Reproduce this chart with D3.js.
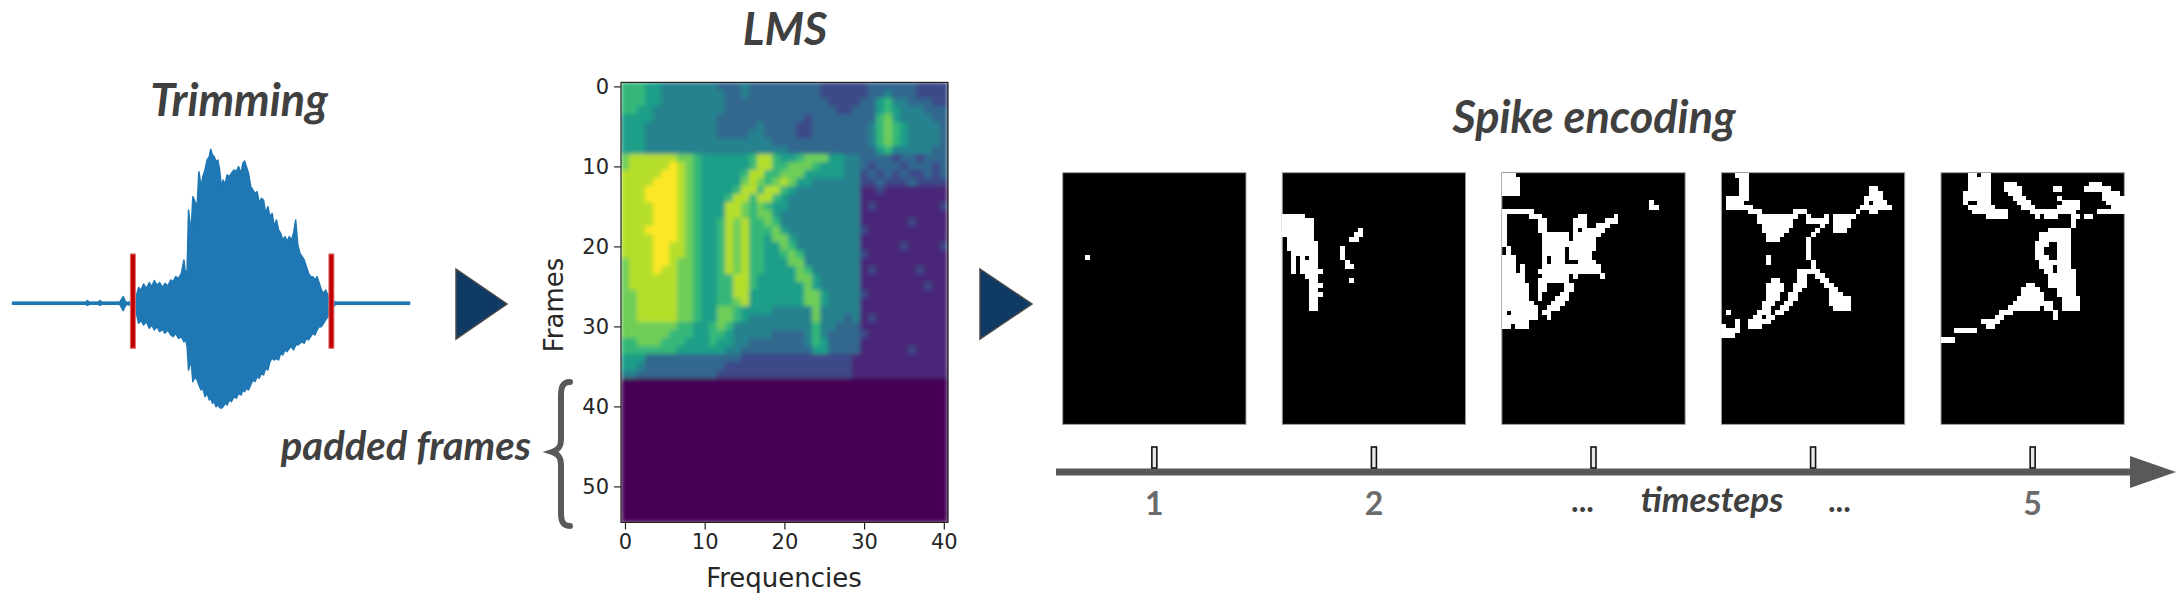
<!DOCTYPE html>
<html>
<head>
<meta charset="utf-8">
<script src="https://cdn.jsdelivr.net/npm/d3@7"></script>
<style>
body { margin: 0; background: #fff; }
</style>
</head>
<body>
<div id="chart"></div>
<script>
// ---- values ----

// raw waveform envelope: time (ms), upper and lower amplitude
var waveT  = [0, 205, 210, 215, 240, 245, 250, 300, 305, 310, 315, 320, 330, 345, 353, 360, 367, 375, 383, 390, 397, 405, 412, 420, 427, 435, 443, 450, 457, 465, 473, 480, 485, 489, 493, 500, 505, 511, 517, 522, 528, 533, 539, 545, 551, 555, 560, 565, 570, 575, 580, 585, 590, 595, 601, 607, 613, 620, 627, 633, 640, 645, 650, 655, 661, 667, 673, 679, 685, 691, 697, 703, 709, 715, 721, 727, 733, 739, 745, 751, 757, 763, 769, 775, 781, 787, 793, 799, 805, 811, 817, 823, 829, 835, 841, 847, 853, 859, 865, 871, 877, 883, 889, 895, 905, 1112];
var waveHi = [3, 3, 8, 3, 3, 8, 3, 3, 12, 20, 8, 2, 5, 15, 47, 40, 58, 45, 62, 50, 68, 54, 62, 48, 60, 52, 70, 65, 80, 75, 90, 130, 85, 100, 280, 210, 320, 305, 290, 395, 350, 380, 400, 430, 440, 462, 445, 440, 425, 430, 400, 350, 370, 355, 385, 380, 390, 400, 395, 410, 390, 420, 427, 410, 390, 350, 340, 330, 335, 300, 315, 310, 270, 290, 260, 270, 230, 250, 220, 210, 190, 200, 185, 200, 190, 210, 250, 175, 150, 140, 130, 110, 90, 80, 80, 70, 80, 60, 40, 30, 40, 25, 15, 8, 3, 3];
var waveLo = [-3, -3, -6, -3, -3, -6, -3, -3, -12, -22, -10, -3, -6, -20, -60, -52, -65, -55, -75, -65, -80, -70, -85, -78, -90, -80, -95, -100, -90, -105, -100, -115, -110, -130, -200, -170, -235, -220, -230, -245, -260, -255, -280, -270, -290, -285, -300, -295, -310, -305, -312, -315, -310, -300, -305, -290, -295, -280, -285, -270, -275, -260, -265, -255, -260, -245, -230, -235, -220, -225, -210, -215, -195, -200, -175, -165, -170, -165, -170, -150, -155, -140, -145, -135, -130, -140, -125, -125, -120, -115, -120, -105, -110, -100, -90, -95, -80, -70, -70, -60, -50, -40, -30, -15, -3, -3];
var trimT = [337, 893];
var trimAmp = [148, -135];

// log-mel spectrogram, 37 real frames x 41 bins, level 0-9 (viridis)
var lmsRows = [
  "6665544444 4433343333 3333322222 23333332222",
  "6665544444 4443343333 3333322222 23343332222",
  "6665544444 4443333333 3333332222 33564433322",
  "6655444444 4443333333 3333333223 33565444333",
  "5555444444 4433333333 3332333333 33675444433",
  "5554444444 4433333433 3322333333 34676544443",
  "5554444444 4433334433 3322333333 34676544443",
  "5554444444 4444444443 3333333333 34676544443",
  "5554444444 4444444444 4333333333 33564444433",
  "7888888776 5555556886 5567775544 33332332333",
  "7888889876 5555556886 6777655544 32333233323",
  "8888899876 5555568866 7775555544 23232322323",
  "8888999876 5555578767 8755444444 22322232222",
  "8889999876 5555688688 6544444444 11211111111",
  "8889999876 5556886886 5444444444 11111111111",
  "8888999876 5558876765 5444444444 12111111112",
  "8888999876 5558876775 4444444444 11111111111",
  "8888999876 5568786676 4444444444 11111121111",
  "8889999876 5568786667 5444444444 21111111111",
  "8888999876 5568786657 7544444444 11111111111",
  "8888998876 5568786655 7644444444 11111211112",
  "8888998876 5568786655 6764444444 21111111111",
  "7888998776 5568786655 5774444444 11111111111",
  "7888988776 5568786655 5576444444 12111112111",
  "7888888776 5566886555 5577544444 11111111111",
  "7888888776 5566886555 5557544444 11111111211",
  "7788888776 5566885555 5557754444 21111111111",
  "7788888776 5566785555 5557754444 11111111111",
  "7788888776 5577655554 4444744444 11111111111",
  "7788888776 5577654444 4444744434 12111111111",
  "7777777665 5676444444 4444644333 11111111111",
  "7777776665 5665444443 3334643333 21111111111",
  "6677766655 5655443333 3334653333 11111111111",
  "6666666555 5554433333 3333553333 11111121111",
  "5553333333 3333322222 2222222221 11111111111",
  "5543333333 3332222222 2222222221 11111111111",
  "4433333333 3322222222 2222222221 11111111111"
];
var lmsFrames = 55;      // padded length
var lmsBins = 41;
var frameTicks = [0, 10, 20, 30, 40, 50];
var freqTicks = [0, 10, 20, 30, 40];

// spike frames: white runs [row, firstCol, lastCol] on a 41 x 55 grid
var spikes1 = [[18, 5, 5]];
var spikes2 = [
  [9, 0, 4], [10, 0, 6], [11, 0, 6], [12, 0, 6], [12, 17, 17], [13, 0, 6], [13, 16, 17],
  [14, 1, 6], [14, 15, 16], [15, 1, 7], [16, 1, 7], [16, 13, 13], [17, 2, 7], [17, 13, 13],
  [18, 2, 2], [18, 4, 4], [18, 6, 7], [18, 13, 13], [19, 2, 2], [19, 4, 7], [19, 14, 14],
  [20, 2, 2], [20, 4, 7], [20, 14, 15], [21, 2, 2], [21, 4, 8], [22, 5, 7], [23, 6, 7], [23, 15, 15],
  [24, 6, 8], [25, 6, 7], [26, 6, 8], [27, 6, 7], [28, 6, 7], [29, 6, 7]
];
var spikes3 = [
  [0, 0, 2], [1, 0, 3], [2, 0, 3], [3, 0, 3], [4, 0, 3], [6, 33, 33], [7, 33, 34], [8, 0, 6],
  [9, 0, 0], [9, 6, 8], [9, 17, 18], [9, 25, 25],
  [10, 0, 0], [10, 8, 9], [10, 16, 18], [10, 23, 25],
  [11, 0, 0], [11, 8, 9], [11, 16, 18], [11, 21, 23],
  [12, 0, 0], [12, 8, 9], [12, 16, 16], [12, 18, 22],
  [13, 0, 0], [13, 9, 14], [13, 16, 21], [14, 0, 0], [14, 9, 14], [14, 16, 20],
  [15, 0, 0], [15, 9, 20], [16, 1, 1], [16, 9, 13], [16, 15, 20], [17, 1, 1], [17, 9, 13], [17, 15, 19],
  [18, 0, 2], [18, 9, 9], [18, 11, 13], [18, 15, 19], [19, 0, 2], [19, 9, 9], [19, 11, 13], [19, 17, 20],
  [20, 0, 2], [20, 4, 4], [20, 9, 21], [21, 0, 2], [21, 4, 4], [21, 8, 21],
  [22, 0, 4], [22, 9, 14], [22, 16, 16], [22, 22, 22], [23, 0, 4], [23, 8, 14],
  [24, 0, 5], [24, 8, 9], [24, 14, 15], [25, 0, 5], [25, 8, 9], [25, 14, 15],
  [26, 0, 5], [26, 8, 8], [26, 13, 14], [27, 0, 5], [27, 8, 8], [27, 12, 14],
  [28, 0, 6], [28, 11, 13], [29, 0, 7], [29, 10, 12], [30, 0, 0], [30, 2, 7], [30, 9, 10],
  [31, 0, 7], [31, 10, 10], [32, 0, 5], [33, 0, 1], [33, 3, 5]
];
var spikes4 = [
  [0, 3, 5], [1, 4, 5], [2, 4, 5], [3, 4, 5], [3, 33, 34], [4, 4, 5], [4, 33, 35],
  [5, 1, 5], [5, 32, 35], [6, 1, 4], [6, 32, 32], [6, 34, 36], [7, 1, 6], [7, 31, 37],
  [8, 6, 8], [8, 16, 18], [8, 30, 30], [8, 33, 34],
  [9, 8, 16], [9, 19, 19], [9, 23, 23], [9, 25, 29], [10, 8, 15], [10, 19, 23], [10, 25, 28],
  [11, 9, 15], [11, 22, 22], [11, 25, 28], [12, 9, 14], [12, 21, 21], [12, 25, 27],
  [13, 10, 13], [13, 20, 20], [14, 10, 12], [14, 19, 19], [15, 19, 19], [16, 19, 19], [17, 19, 19],
  [18, 10, 10], [18, 19, 19], [19, 10, 10], [19, 20, 20], [20, 20, 20], [21, 17, 21],
  [22, 17, 18], [22, 21, 22], [23, 11, 12], [23, 17, 18], [23, 22, 23],
  [24, 10, 13], [24, 16, 18], [24, 23, 24], [25, 10, 13], [25, 16, 17], [25, 24, 25],
  [26, 10, 12], [26, 15, 16], [26, 24, 26], [27, 10, 12], [27, 15, 16], [27, 24, 28],
  [28, 9, 11], [28, 14, 15], [28, 24, 28], [29, 9, 10], [29, 13, 14], [29, 25, 28],
  [30, 1, 1], [30, 8, 10], [30, 12, 13], [31, 7, 8], [31, 10, 11], [32, 3, 3], [32, 6, 10],
  [33, 0, 0], [33, 3, 3], [33, 6, 8], [34, 0, 3], [35, 0, 2]
];
var spikes5 = [
  [0, 6, 7], [0, 9, 10], [1, 6, 10], [2, 6, 10], [2, 14, 16], [2, 33, 35],
  [3, 6, 10], [3, 14, 17], [3, 25, 26], [3, 32, 37], [4, 5, 10], [4, 15, 17], [4, 36, 39],
  [5, 5, 10], [5, 16, 18], [5, 26, 26], [5, 36, 40], [6, 5, 5], [6, 8, 10], [6, 17, 19], [6, 27, 30], [6, 37, 40],
  [7, 6, 11], [7, 18, 20], [7, 26, 30], [7, 38, 40], [8, 7, 14], [8, 20, 29], [8, 35, 40],
  [9, 10, 14], [9, 21, 21], [9, 23, 25], [9, 29, 30], [9, 32, 33], [10, 29, 29], [11, 29, 29],
  [12, 24, 28], [13, 22, 28], [14, 22, 28], [15, 21, 23], [15, 26, 28], [16, 21, 22], [16, 26, 28],
  [17, 21, 22], [17, 26, 28], [18, 21, 23], [18, 26, 28], [19, 22, 28], [20, 22, 24], [20, 26, 28],
  [21, 23, 24], [21, 26, 29], [22, 24, 29], [23, 24, 29], [24, 19, 20], [24, 24, 29],
  [25, 18, 21], [25, 26, 29], [26, 18, 22], [26, 26, 29], [27, 17, 22], [27, 27, 30],
  [28, 16, 24], [28, 27, 30], [29, 15, 21], [29, 23, 24], [29, 27, 30], [30, 13, 15], [30, 25, 25],
  [31, 12, 13], [31, 25, 25], [32, 9, 12], [33, 10, 11], [34, 3, 7], [36, 0, 2]
];
var spikeFrames = [spikes1, spikes2, spikes3, spikes4, spikes5];

// timeline labels: text and position in timestep units (0 = first frame)
var stepLabels = ["1", "2", "...", "timesteps", "...", "5"];
var stepPos = [0, 1, 1.95, 2.54, 3.12, 4];

// ---- drawing ----
var W = 2184, H = 608;
var titleFont = "Lato, 'Open Sans', sans-serif";
var mplFont = "'DejaVu Sans', sans-serif";

var svg = d3.select("#chart").append("svg")
    .attr("width", W)
    .attr("height", H);

var defs = svg.append("defs");
defs.append("filter")
    .attr("id", "soft")
    .attr("x", 0).attr("y", 0).attr("width", 1).attr("height", 1)
    .append("feGaussianBlur")
    .attr("stdDeviation", 2)
    .attr("edgeMode", "duplicate");

function title(txt, x, y, size) {
    svg.append("text")
       .attr("x", x)
       .attr("y", y)
       .attr("text-anchor", "middle")
       .style("font-family", titleFont)
       .style("font-style", "italic")
       .style("font-weight", "bold")
       .style("font-size", size + "px")
       .attr("fill", "#404040")
       .text(txt);
}

// panel titles
title("Trimming", 239, 116, 45);
title("LMS", 785, 45, 45);
title("Spike encoding", 1594, 133, 45);

// waveform
var waveX = d3.scaleLinear().domain([0, 1112]).range([12.5, 409.6]);
var waveY = d3.scaleLinear().domain([-315, 462]).range([408.3, 149.3]);
var wave = waveT.map(function(t, i) { return {t: t, hi: waveHi[i], lo: waveLo[i]}; });

svg.append("line")
   .attr("x1", waveX(0)).attr("x2", waveX(1112))
   .attr("y1", waveY(0)).attr("y2", waveY(0))
   .attr("stroke", "#1f77b4")
   .attr("stroke-width", 3);

svg.append("path")
   .datum(wave)
   .attr("d", d3.area()
       .x(function(d) { return waveX(d.t); })
       .y0(function(d) { return waveY(d.lo); })
       .y1(function(d) { return waveY(d.hi); }))
   .attr("fill", "#1f77b4")
   .attr("stroke", "#1f77b4")
   .attr("stroke-width", 1.5)
   .attr("stroke-linejoin", "round");

svg.selectAll(".trim")
   .data(trimT)
   .enter().append("rect")
   .attr("x", function(d) { return waveX(d) - 2.5; })
   .attr("y", waveY(trimAmp[0]))
   .attr("width", 5)
   .attr("height", waveY(trimAmp[1]) - waveY(trimAmp[0]))
   .attr("fill", "#c00000")
   .attr("stroke", "#e07070")
   .attr("stroke-width", 1);

// step arrows
function arrowHead(x0, x1, yc, h) {
    svg.append("path")
       .attr("d", "M" + x0 + "," + (yc - h) + "L" + x1 + "," + yc + "L" + x0 + "," + (yc + h) + "Z")
       .attr("fill", "#0e3a63")
       .attr("stroke", "#4a4a4a")
       .attr("stroke-width", 1.5);
}
arrowHead(456, 507, 304, 35);
arrowHead(980, 1032, 304, 35);

// LMS heatmap
var freqX = d3.scaleLinear().domain([-0.5, lmsBins - 0.5]).range([621, 947.8]);
var frameY = d3.scaleLinear().domain([-0.5, lmsFrames - 0.5]).range([82.4, 522.4]);

var cells = [];
for (var r = 0; r < lmsFrames; r++) {
    var row = r < lmsRows.length ? lmsRows[r].replace(/ /g, "") : null;
    for (var c = 0; c < lmsBins; c++) {
        cells.push({r: r, c: c, v: row ? +row[c] / 9 : 0});
    }
}

var lms = svg.append("g").attr("filter", "url(#soft)");
lms.selectAll("rect")
   .data(cells)
   .enter().append("rect")
   .attr("x", function(d) { return freqX(d.c - 0.5); })
   .attr("y", function(d) { return frameY(d.r - 0.5); })
   .attr("width", freqX(1) - freqX(0) + 0.5)
   .attr("height", frameY(1) - frameY(0) + 0.5)
   .attr("shape-rendering", "crispEdges")
   .attr("fill", function(d) { return d3.interpolateViridis(d.v); });

svg.append("rect")
   .attr("x", freqX(-0.5)).attr("y", frameY(-0.5))
   .attr("width", freqX(lmsBins - 0.5) - freqX(-0.5))
   .attr("height", frameY(lmsFrames - 0.5) - frameY(-0.5))
   .attr("fill", "none")
   .attr("stroke", "#222")
   .attr("stroke-width", 1.2);

var yAxis = svg.append("g")
   .attr("transform", "translate(" + freqX(-0.5) + ",0)")
   .call(d3.axisLeft(frameY).tickValues(frameTicks).tickSize(7).tickPadding(5));
var xAxis = svg.append("g")
   .attr("transform", "translate(0," + frameY(lmsFrames - 0.5) + ")")
   .call(d3.axisBottom(freqX).tickValues(freqTicks).tickSize(7).tickPadding(5));
[xAxis, yAxis].forEach(function(a) {
    a.select(".domain").remove();
    a.selectAll("line").attr("stroke", "#222").attr("stroke-width", 1.2);
    a.selectAll("text")
     .style("font-family", mplFont)
     .style("font-size", "21px")
     .attr("fill", "#262626");
});

svg.append("text")
   .attr("x", 784)
   .attr("y", 587)
   .attr("text-anchor", "middle")
   .style("font-family", mplFont)
   .style("font-size", "26px")
   .attr("fill", "#262626")
   .text("Frequencies");

svg.append("text")
   .attr("transform", "translate(563," + 305 + ") rotate(-90)")
   .attr("text-anchor", "middle")
   .style("font-family", mplFont)
   .style("font-size", "26px")
   .attr("fill", "#262626")
   .text("Frames");

// padded frames brace
svg.append("path")
   .attr("d", "M570,382 C562,382 561,388 561,396 L561,440 C561,447 558,450 552,452 " +
              "C558,454 561,457 561,464 L561,512 C561,520 562,526 570,526")
   .attr("fill", "none")
   .attr("stroke", "#595959")
   .attr("stroke-width", 6)
   .attr("stroke-linecap", "round");

svg.append("text")
   .attr("x", 531)
   .attr("y", 460)
   .attr("text-anchor", "end")
   .style("font-family", titleFont)
   .style("font-style", "italic")
   .style("font-weight", "bold")
   .style("font-size", "40px")
   .attr("fill", "#404040")
   .text("padded frames");

// spike frames
var frameLeft = d3.scaleLinear().domain([0, 4]).range([1062.7, 1941]);
var frameW = 183.3, frameTop = 172.7, frameH = 251.7;
var pixX = d3.scaleLinear().domain([0, lmsBins]).range([0, frameW]);
var pixY = d3.scaleLinear().domain([0, lmsFrames]).range([frameTop, frameTop + frameH]);

spikeFrames.forEach(function(runs, k) {
    var g = svg.append("g").attr("transform", "translate(" + frameLeft(k) + ",0)");
    g.append("rect")
     .attr("x", 0).attr("y", frameTop)
     .attr("width", frameW).attr("height", frameH)
     .attr("fill", "#000")
     .attr("stroke", "#a0a0a0")
     .attr("stroke-width", 1);
    g.selectAll(".px")
     .data(runs)
     .enter().append("rect")
     .attr("x", function(d) { return pixX(d[1]); })
     .attr("y", function(d) { return pixY(d[0]); })
     .attr("width", function(d) { return pixX(d[2] + 1) - pixX(d[1]) + 0.4; })
     .attr("height", pixY(1) - pixY(0) + 0.6)
     .attr("shape-rendering", "crispEdges")
     .attr("fill", "#fff");
});

// timeline
var stepX = d3.scaleLinear().domain([0, 4]).range([frameLeft(0) + frameW / 2, frameLeft(4) + frameW / 2]);
var lineY = 472;

svg.append("line")
   .attr("x1", 1056).attr("x2", 2134)
   .attr("y1", lineY).attr("y2", lineY)
   .attr("stroke", "#595959")
   .attr("stroke-width", 7);
svg.append("path")
   .attr("d", "M2130," + (lineY - 16) + "L2176," + lineY + "L2130," + (lineY + 16) + "Z")
   .attr("fill", "#595959");

svg.selectAll(".stepTick")
   .data(d3.range(5))
   .enter().append("rect")
   .attr("x", function(d) { return stepX(d) - 2.5; })
   .attr("y", 447)
   .attr("width", 5)
   .attr("height", 21)
   .attr("fill", "#e8e8e8")
   .attr("stroke", "#111")
   .attr("stroke-width", 1.6);

function isNum(d) { return /^[0-9]$/.test(d); }
svg.selectAll(".stepLabel")
   .data(stepLabels)
   .enter().append("text")
   .attr("x", function(d, i) { return stepX(stepPos[i]); })
   .attr("y", function(d) { return isNum(d) ? 515 : 512; })
   .attr("text-anchor", "middle")
   .style("font-family", titleFont)
   .style("font-style", function(d) { return d === "timesteps" ? "italic" : "normal"; })
   .style("font-weight", "bold")
   .style("font-size", function(d) { return d === "timesteps" ? "35px" : "32px"; })
   .attr("fill", function(d) { return isNum(d) ? "#6b6b6b" : "#404040"; })
   .text(function(d) { return d; });
</script>
</body>
</html>
